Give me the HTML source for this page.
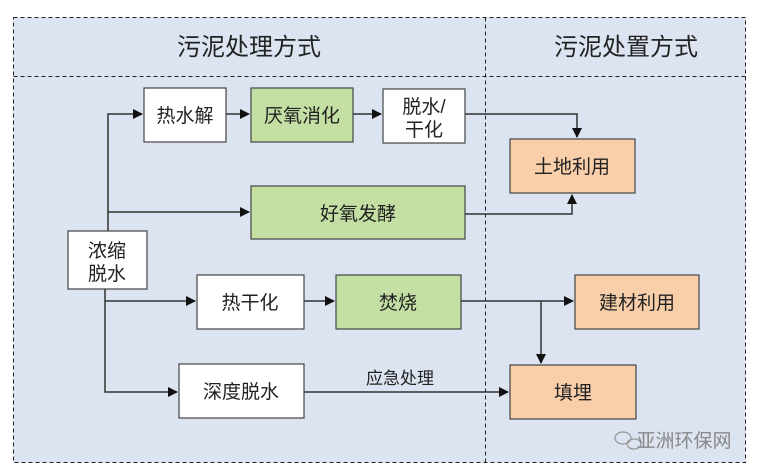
<!DOCTYPE html>
<html><head><meta charset="utf-8"><style>
html,body{margin:0;padding:0;background:#fff;}
svg{display:block;}
text{font-family:"Liberation Sans","Noto Sans CJK SC",sans-serif;fill:#222;}
</style></head><body>
<svg width="759" height="473" viewBox="0 0 759 473" xmlns="http://www.w3.org/2000/svg">
<defs>
<marker id="a" markerWidth="10" markerHeight="10" refX="9" refY="5" orient="auto" markerUnits="userSpaceOnUse">
<path d="M0,0 L10,5 L0,10 z" fill="#111"/></marker>
</defs>
<rect x="13.5" y="17.5" width="732" height="445" fill="#dbe4f0" stroke="#222" stroke-dasharray="4,3"/>
<line x1="13.5" y1="76.5" x2="745.5" y2="76.5" stroke="#222" stroke-dasharray="4,3"/>
<line x1="485.5" y1="17.5" x2="485.5" y2="462.5" stroke="#222" stroke-dasharray="4,3"/>
<text x="249" y="55" font-size="24" text-anchor="middle">污泥处理方式</text>
<text x="626" y="55" font-size="24" text-anchor="middle">污泥处置方式</text>

<g stroke="#333" stroke-width="1.5" fill="none">
<polyline points="108,231 108,114 142,114" marker-end="url(#a)"/>
<line x1="226" y1="114" x2="249" y2="114" marker-end="url(#a)"/>
<line x1="353" y1="114" x2="381" y2="114" marker-end="url(#a)"/>
<line x1="108" y1="212" x2="249" y2="212" marker-end="url(#a)"/>
<polyline points="465,114 577,114 577,137" marker-end="url(#a)"/>
<polyline points="465,214 572,214 572,195" marker-end="url(#a)"/>
<polyline points="105,289 105,392 177,392" marker-end="url(#a)"/>
<line x1="105" y1="301" x2="195" y2="301" marker-end="url(#a)"/>
<line x1="304" y1="301" x2="334" y2="301" marker-end="url(#a)"/>
<line x1="461" y1="301" x2="573" y2="301" marker-end="url(#a)"/>
<line x1="541" y1="301" x2="541" y2="363" marker-end="url(#a)"/>
<line x1="304" y1="392" x2="508" y2="392" marker-end="url(#a)"/>
</g>

<g stroke="#444" stroke-width="1.2">
<rect x="144" y="88" width="82" height="54" fill="#fff"/>
<rect x="251" y="88" width="102" height="54" fill="#c4dfa3"/>
<rect x="383" y="89" width="82" height="54" fill="#fff"/>
<rect x="510" y="139" width="125" height="54" fill="#f9cfaa"/>
<rect x="251" y="186" width="214" height="53" fill="#c4dfa3"/>
<rect x="68" y="231" width="79" height="58" fill="#fff"/>
<rect x="197" y="275" width="107" height="54" fill="#fff"/>
<rect x="336" y="275" width="125" height="54" fill="#c4dfa3"/>
<rect x="575" y="275" width="124" height="54" fill="#f9cfaa"/>
<rect x="179" y="364" width="125" height="54" fill="#fff"/>
<rect x="510" y="365" width="126" height="54" fill="#f9cfaa"/>
</g>

<g font-size="19" text-anchor="middle">
<text x="185" y="122">热水解</text>
<text x="302" y="122">厌氧消化</text>
<text x="424" y="113">脱水/</text>
<text x="424" y="136">干化</text>
<text x="572" y="173">土地利用</text>
<text x="358" y="220">好氧发酵</text>
<text x="107" y="257">浓缩</text>
<text x="107" y="280">脱水</text>
<text x="250" y="309">热干化</text>
<text x="398" y="309">焚烧</text>
<text x="637" y="309">建材利用</text>
<text x="241" y="398">深度脱水</text>
<text x="573" y="399">填埋</text>
<text x="400" y="384" font-size="17">应急处理</text>
</g>
<g fill="none" stroke="#999" stroke-width="1.3">
<ellipse cx="623" cy="438" rx="8" ry="6"/>
<ellipse cx="634" cy="444" rx="7" ry="5"/>
</g>
<text x="684" y="447" font-size="19" text-anchor="middle" style="fill:#888">亚洲环保网</text>
</svg>
</body></html>
